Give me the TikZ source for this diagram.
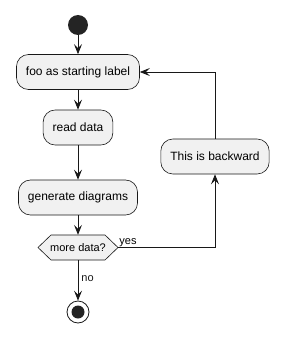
\documentclass[tikz,border=0pt]{standalone}
\usepackage{fontspec}
\setmainfont{Liberation Sans}
\usetikzlibrary{arrows.meta,positioning}
\definecolor{actfill}{HTML}{F1F1F1}
\definecolor{actline}{HTML}{181818}

\begin{document}
\begin{tikzpicture}[x=1pt,y=-1pt,
    act/.style={draw=actline,fill=actfill,line width=0.6pt,rounded corners=12pt,
        minimum height=35pt,inner xsep=9.5pt,font=\fontsize{12}{14}\selectfont},
    test/.style={minimum height=25pt,minimum width=80pt,inner sep=0pt,
        font=\fontsize{11}{13}\selectfont},
    flow/.style={-{Stealth[length=10pt,width=8pt,inset=4pt]},line width=0.8pt,color=actline},
    lbl/.style={font=\fontsize{11}{13}\selectfont,inner sep=1pt}]
\useasboundingbox (0,0) rectangle (288,342);

% Start and stop
\node[circle,fill=actline!95,minimum size=20pt,inner sep=0pt] (start) at (78,25) {};
\node[circle,draw=actline,line width=0.8pt,minimum size=22pt,inner sep=0pt] (stop) at (78,312) {};
\fill[actline!95] (stop) circle (6.5pt);

% Activities
\node[act] (foo) at (78,72) {foo as starting label};
\node[act] (read) at (78,127.5) {read data};
\node[act] (gen) at (78,197.5) {generate diagrams};
\node[act] (back) at (215,156.5) {This is backward};

% Test
\filldraw[draw=actline,fill=actfill,line width=0.6pt]
  (38,247.5) -- (51,235) -- (105,235) -- (118,247.5) -- (105,260) -- (51,260) -- cycle;
\node[test] (more) at (78,247.5) {more data?};

% Arrows
\draw[flow] (start) -- (foo);
\draw[flow] (foo) -- (read);
\draw[flow] (read) -- (gen);
\draw[flow] (gen) -- (more);
\draw[flow] (more) -- node[lbl,right=2pt,pos=0.45] {no} (stop);
\draw[flow] (more.east) -- (more.east -| back) -- (back);
\draw[flow] (back) -- (back |- foo) -- (foo);
\node[lbl,anchor=south west] (yes) at (more.east) {yes};

\end{tikzpicture}
\end{document}
